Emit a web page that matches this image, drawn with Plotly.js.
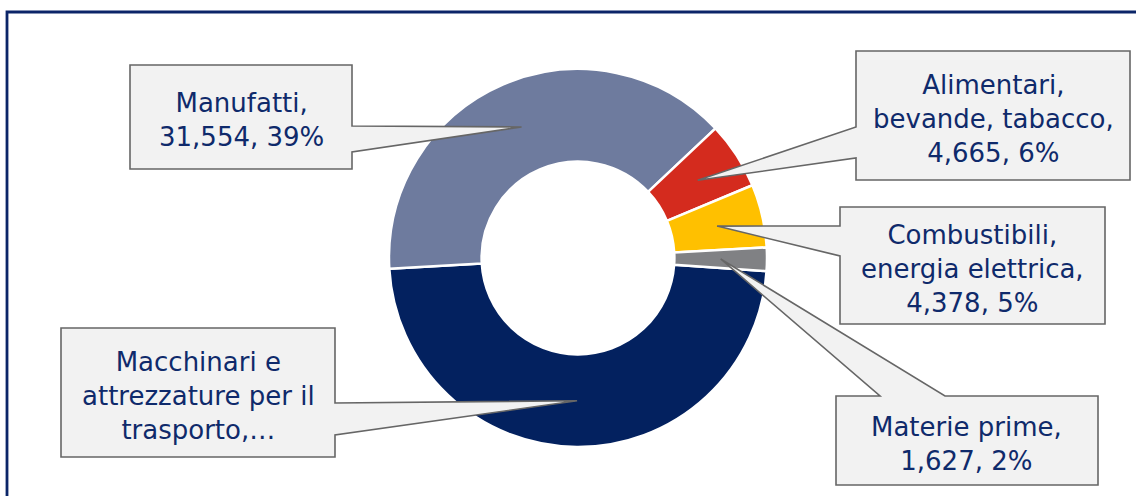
<!DOCTYPE html>
<html>
<head>
<meta charset="utf-8">
<script src="https://cdn.plot.ly/plotly-3.0.1.min.js"></script>
<style>html,body{margin:0;padding:0;background:#fff;}#chart{width:1136px;height:496px;}</style>
</head>
<body>
<div id="chart"></div>
<script>
// ---- data ----
const categories = ["Macchinari e attrezzature per il trasporto", "Manufatti", "Alimentari, bevande, tabacco", "Combustibili, energia elettrica", "Materie prime"];
const values = [38950, 31554, 4665, 4378, 1627];
const calloutTexts = [
  "Macchinari e<br>attrezzature per il<br>trasporto,…",
  "Manufatti,<br>31,554, 39%",
  "Alimentari,<br>bevande, tabacco,<br>4,665, 6%",
  "Combustibili,<br>energia elettrica,<br>4,378, 5%",
  "Materie prime,<br>1,627, 2%"
];
const colors = ["#03215F", "#6E7B9E", "#D42B1E", "#FFC000", "#808184"];

// ---- layout settings ----
const W = 1136, H = 496;
const CX = 578, CY = 258, R = 189, HOLE = 0.51;
const ROT = 94;
// callout boxes [x0, y0, x1, y1, side, a, b] in pixels
const boxes = [
  [61, 328, 335, 457, "right", 403, 435],
  [130, 65, 352, 169, "right", 126, 152],
  [856, 51, 1130, 180, "left", 127, 158],
  [840, 207, 1105, 324, "left", 226, 256],
  [836, 396, 1098, 485, "top", 880, 945]
];

const px = x => x / W;
const py = y => 1 - y / H;

// tip positions from slice mid-angles
const total = values.reduce((s, v) => s + v, 0);
const midR = R * (1 + HOLE) / 2;
let acc = 0;
const tips = values.map(v => {
  const mid = ROT + (acc + v / 2) / total * 360;
  acc += v;
  const a = mid * Math.PI / 180;
  return [CX + midR * Math.sin(a), CY - midR * Math.cos(a)];
});

const shapes = [];
const annotations = [];
boxes.forEach((b, i) => {
  const [x0, y0, x1, y1, side, a, c] = b;
  const [tx, ty] = tips[i];
  let pts;
  if (side === "right") {
    pts = [[x0, y0], [x1, y0], [x1, a], [tx, ty], [x1, c], [x1, y1], [x0, y1]];
  } else if (side === "left") {
    pts = [[x0, y0], [x1, y0], [x1, y1], [x0, y1], [x0, c], [tx, ty], [x0, a]];
  } else {
    pts = [[x0, y0], [a, y0], [tx, ty], [c, y0], [x1, y0], [x1, y1], [x0, y1]];
  }
  const path = pts.map((p, k) => (k ? "L" : "M") + px(p[0]).toFixed(5) + "," + py(p[1]).toFixed(5)).join(" ") + " Z";
  shapes.push({
    type: "path", xref: "paper", yref: "paper", path: path,
    fillcolor: "#F2F2F2", line: {color: "#666666", width: 1.6}, layer: "above"
  });
  annotations.push({
    xref: "paper", yref: "paper",
    x: px((x0 + x1) / 2), y: py((y0 + y1) / 2),
    xanchor: "center", yanchor: "middle", yshift: -3,
    text: calloutTexts[i], showarrow: false, align: "center",
    font: {family: "DejaVu Sans, Verdana, sans-serif", size: 26, color: "#0F2A6B"}
  });
});

// outer frame
shapes.unshift({
  type: "rect", xref: "paper", yref: "paper",
  x0: px(7), y0: py(12), x1: px(1150), y1: py(510),
  line: {color: "#0B2568", width: 2.8}, fillcolor: "rgba(0,0,0,0)", layer: "below"
});

const trace = {
  type: "pie",
  labels: categories,
  values: values,
  hole: HOLE,
  sort: false,
  direction: "clockwise",
  rotation: ROT,
  textinfo: "none",
  hoverinfo: "label+value+percent",
  marker: {colors: colors, line: {color: "#FFFFFF", width: 2.5}},
  domain: {x: [px(CX - R), px(CX + R)], y: [py(CY + R), py(CY - R)]},
  showlegend: false
};

const layout = {
  width: W, height: H,
  margin: {l: 0, r: 0, t: 0, b: 0},
  paper_bgcolor: "#FFFFFF",
  showlegend: false,
  shapes: shapes,
  annotations: annotations
};

Plotly.newPlot("chart", [trace], layout, {staticPlot: true, displayModeBar: false});
</script>
</body>
</html>
